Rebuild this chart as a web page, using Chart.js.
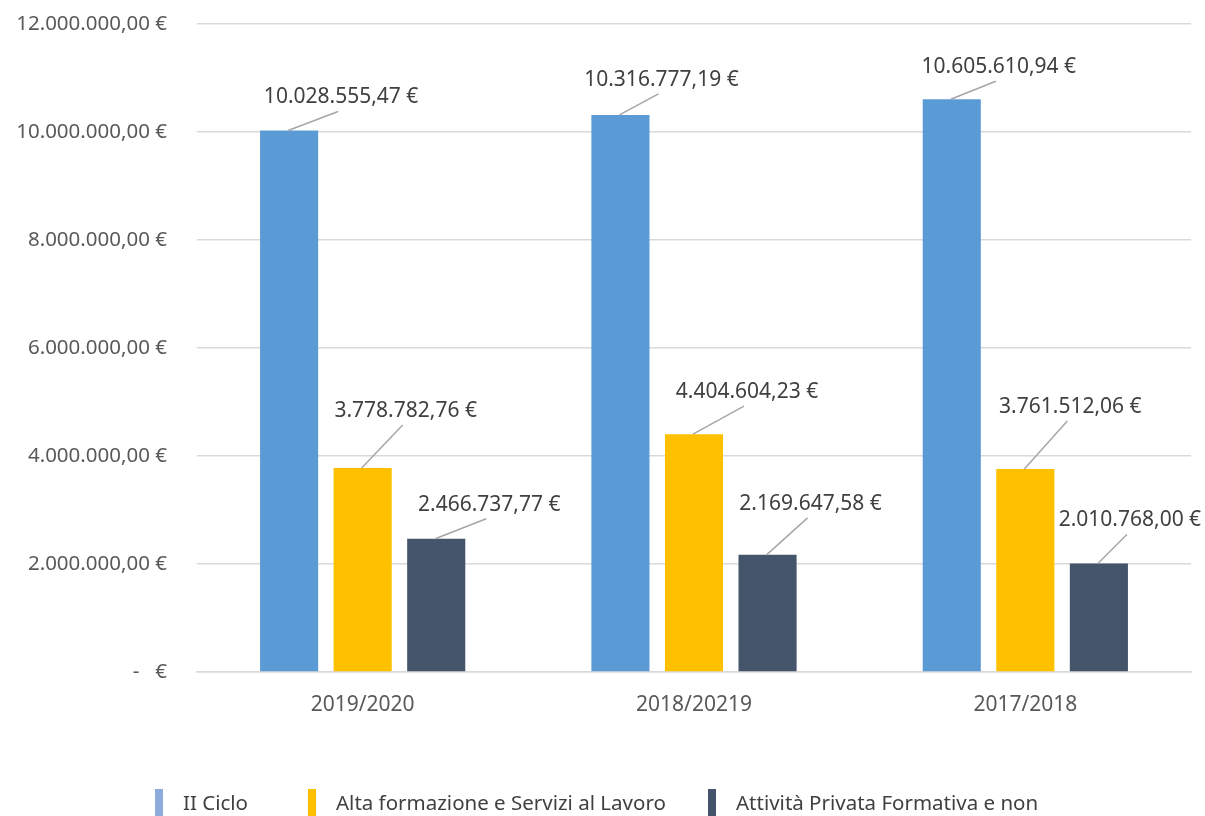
<!DOCTYPE html>
<html lang="it">
<head>
    <meta charset="UTF-8">
    <title>Finanziamenti per anno</title>
    <script src="https://cdn.jsdelivr.net/npm/chart.js"></script>
    <style>
        body { margin: 0; padding: 0; background: #fff; }
        #wrap { width: 1205px; height: 816px; }
    </style>
</head>
<body>
    <div id="wrap"><canvas id="chart" width="1205" height="816"></canvas></div>
    <script>
        // dati
        const categories = ['2019/2020', '2018/20219', '2017/2018'];
        const seriesNames = ['II Ciclo', 'Alta formazione e Servizi al Lavoro', 'Attività Privata Formativa e non'];
        const iiCiclo = [10028555.47, 10316777.19, 10605610.94];
        const altaFormazione = [3778782.76, 4404604.23, 3761512.06];
        const attivitaPrivata = [2466737.77, 2169647.58, 2010768.00];
        const yTicks = [0, 2000000, 4000000, 6000000, 8000000, 10000000, 12000000];

        // stile
        const barColors = ['#5B9BD5', '#FFC000', '#44546A'];
        const legendColors = ['#8FAADC', '#FFC000', '#44546A'];
        const legendX = [155, 308, 708];
        // posizione etichette rispetto alla cima della barra (dx, dy)
        const labelOffsets = [
            [[52, -33], [41, -35], [47, -32]],
            [[43, -57], [53, -42], [45, -62]],
            [[53, -34], [43, -51], [31, -43]]
        ];
        const FONT = '"Noto Sans", sans-serif';

        function fmtEuro(v) {
            if (v === 0) return '-   €';
            const parts = v.toFixed(2).split('.');
            const intPart = parts[0].replace(/\B(?=(\d{3})+(?!\d))/g, '.');
            return intPart + ',' + parts[1] + ' €';
        }

        const labelPlugin = {
            id: 'leaderLabels',
            afterDatasetsDraw(chart) {
                const ctx = chart.ctx;
                ctx.save();
                chart.data.datasets.forEach((ds, di) => {
                    const meta = chart.getDatasetMeta(di);
                    meta.data.forEach((bar, i) => {
                        const off = labelOffsets[di][i];
                        const lx = bar.x + off[0];
                        const ly = bar.y + off[1];
                        ctx.strokeStyle = '#A6A6A6';
                        ctx.lineWidth = 1.5;
                        ctx.beginPath();
                        ctx.moveTo(bar.x - 1, bar.y);
                        ctx.lineTo(lx - 3, ly + 14);
                        ctx.stroke();
                        ctx.fillStyle = '#404040';
                        ctx.font = '21px ' + FONT;
                        ctx.textAlign = 'center';
                        ctx.textBaseline = 'middle';
                        ctx.fillText(fmtEuro(ds.data[i]), lx, ly);
                    });
                });
                ctx.restore();
            },
            afterDraw(chart) {
                // legenda
                const ctx = chart.ctx;
                ctx.save();
                ctx.font = '20.5px ' + FONT;
                ctx.textBaseline = 'middle';
                ctx.textAlign = 'left';
                seriesNames.forEach((name, i) => {
                    ctx.fillStyle = legendColors[i];
                    ctx.fillRect(legendX[i], 789, 8, 27);
                    ctx.fillStyle = '#404040';
                    ctx.fillText(name, legendX[i] + 28, 804);
                });
                ctx.restore();
            }
        };

        const seriesData = [iiCiclo, altaFormazione, attivitaPrivata];
        new Chart(document.getElementById('chart'), {
            type: 'bar',
            data: {
                labels: categories,
                datasets: seriesNames.map((n, i) => ({
                    label: n,
                    data: seriesData[i],
                    backgroundColor: barColors[i],
                    categoryPercentage: 0.666,
                    barPercentage: 0.79
                }))
            },
            options: {
                responsive: false,
                animation: false,
                layout: { padding: { top: 24, right: 14, left: 0, bottom: 0 } },
                plugins: { legend: { display: false }, tooltip: { enabled: false } },
                scales: {
                    x: {
                        grid: { display: false, drawTicks: false },
                        border: { color: '#D9D9D9', width: 1.5 },
                        ticks: { color: '#595959', font: { family: FONT, size: 21 }, padding: 20 },
                        afterFit(scale) { scale.height = 144; scale.paddingLeft = 0; scale.paddingRight = 0; }
                    },
                    y: {
                        min: 0,
                        max: 12000000,
                        afterBuildTicks(scale) { scale.ticks = yTicks.map(v => ({ value: v })); },
                        grid: { color: '#D9D9D9', lineWidth: 1.5, drawTicks: false },
                        border: { display: false },
                        ticks: {
                            color: '#595959',
                            font: { family: FONT, size: 20.5 },
                            padding: 30,
                            callback: v => fmtEuro(v)
                        },
                        afterFit(scale) { scale.width = 197; scale.paddingTop = 0; scale.paddingBottom = 0; }
                    }
                }
            },
            plugins: [labelPlugin]
        });
    </script>
</body>
</html>
